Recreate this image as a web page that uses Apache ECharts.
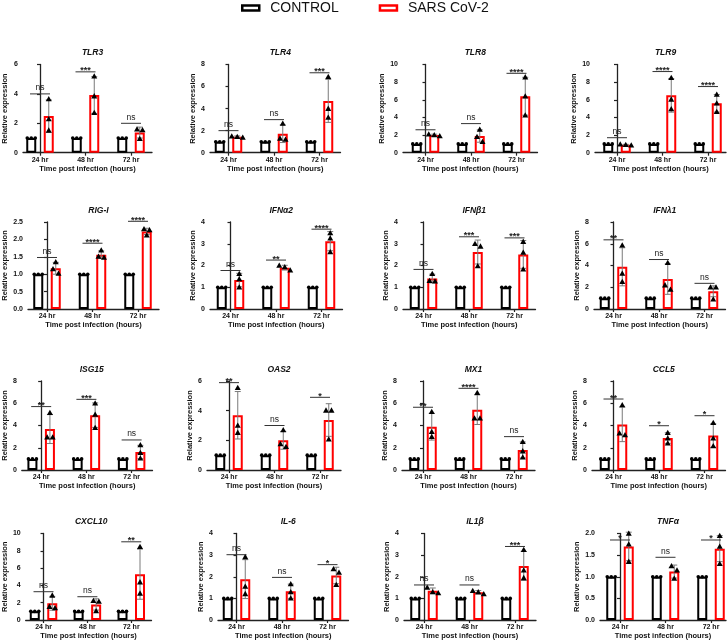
<!DOCTYPE html>
<html><head><meta charset="utf-8">
<script src="https://cdn.jsdelivr.net/npm/echarts@6/dist/echarts.min.js"></script>
<style>html,body{margin:0;padding:0;background:#fff}#c{width:728px;height:644px}</style>
</head><body><div id="c"></div>
<script>
// ---------------- DATA ----------------
const categories = ['24 hr', '48 hr', '72 hr'];
const genes = ['TLR3','TLR4','TLR8','TLR9','RIG-I','IFNα2','IFNβ1','IFNλ1','ISG15','OAS2','MX1','CCL5','CXCL10','IL-6','IL1β','TNFα'];
const yMax  = [6, 8, 10, 10, 2.5, 4, 4, 8, 8, 6, 8, 8, 10, 4, 4, 2];
const yStep = [2, 2, 2, 2, 0.5, 1, 1, 2, 2, 2, 2, 2, 2, 1, 1, 0.5];
const controlMean = [1, 1, 1];
const controlPoints = [1, 1, 1];
const sarsMean = [
  [2.49, 3.92, 1.37], [1.44, 1.72, 4.70], [2.00, 1.89, 6.40], [0.90, 6.50, 5.60],
  [1.17, 1.56, 2.23], [1.33, 1.90, 3.12], [1.40, 2.62, 2.51], [3.88, 2.75, 1.63],
  [3.68, 4.93, 1.62], [3.69, 2.00, 3.37], [3.89, 5.42, 1.80], [4.10, 2.87, 3.09],
  [1.93, 1.80, 5.30], [1.89, 1.33, 2.06], [1.35, 1.28, 2.50], [1.70, 1.12, 1.65]
];
const sarsSD = [
  [1.10, 1.25, 0.37], [0.08, 0.80, 1.95], [0.10, 0.70, 2.15], [0.05, 1.90, 1.00],
  [0.17, 0.11, 0.09], [0.31, 0.11, 0.44], [0.20, 0.55, 0.64], [1.75, 1.40, 0.50],
  [1.30, 1.10, 0.60], [1.60, 0.60, 1.10], [1.20, 1.33, 0.72], [1.55, 0.48, 1.06],
  [0.80, 0.65, 2.90], [0.90, 0.33, 0.38], [0.13, 0.08, 0.67], [0.33, 0.15, 0.30]
];
const sarsPoints = [
  [[3.65, 2.30, 1.52], [5.20, 3.85, 2.72], [1.60, 1.55, 0.95]],
  [[1.50, 1.45, 1.38], [2.65, 1.30, 1.20], [6.90, 4.00, 3.20]],
  [[2.10, 2.00, 1.90], [2.63, 1.80, 1.24], [8.57, 6.40, 4.25]],
  [[0.95, 0.90, 0.85], [8.50, 6.05, 4.95], [6.60, 5.60, 4.65]],
  [[1.35, 1.15, 1.02], [1.69, 1.51, 1.48], [2.30, 2.27, 2.12]],
  [[1.62, 1.38, 1.00], [2.00, 1.93, 1.78], [3.50, 3.25, 2.62]],
  [[1.62, 1.30, 1.28], [3.00, 2.88, 1.98], [3.10, 2.60, 1.83]],
  [[5.87, 3.27, 2.50], [4.25, 2.20, 1.80], [2.00, 2.00, 0.90]],
  [[5.15, 2.95, 2.95], [6.00, 5.00, 3.80], [2.25, 1.55, 1.05]],
  [[5.55, 3.00, 2.52], [2.70, 1.75, 1.57], [4.02, 4.02, 2.07]],
  [[5.24, 3.44, 2.99], [6.95, 4.65, 4.65], [2.55, 1.70, 1.15]],
  [[5.84, 3.30, 3.15], [3.35, 2.85, 2.40], [4.25, 2.85, 2.16]],
  [[2.85, 1.55, 1.40], [2.23, 2.15, 1.04], [8.46, 4.38, 3.08]],
  [[2.92, 1.55, 1.21], [1.67, 1.30, 1.01], [2.36, 2.20, 1.63]],
  [[1.50, 1.30, 1.25], [1.35, 1.30, 1.20], [3.25, 2.30, 1.95]],
  [[2.00, 1.75, 1.35], [1.25, 1.15, 0.96], [1.95, 1.70, 1.30]]
];
const sigLabel = [
  ['ns','***','ns'], ['ns','ns','***'], ['ns','ns','****'], ['ns','****','****'],
  ['ns','****','****'], ['ns','**','****'], ['ns','***','***'], ['**','ns','ns'],
  ['**','***','ns'], ['**','ns','*'], ['**','****','ns'], ['**','*','*'],
  ['ns','ns','**'], ['ns','ns','*'], ['ns','ns','***'], ['*','ns','*']
];
const sigHeight = [
  [4.0, 5.5, 2.0], [2.0, 3.0, 7.25], [2.6, 3.3, 9.0], [1.7, 9.2, 7.5],
  [1.48, 1.89, 2.52], [1.77, 2.25, 3.67], [1.82, 3.32, 3.27], [6.36, 4.55, 2.36],
  [5.7, 6.35, 2.7], [5.89, 3.0, 4.9], [5.64, 7.34, 3.0], [6.38, 3.98, 4.88],
  [3.27, 2.69, 9.04], [3.02, 1.97, 2.56], [1.62, 1.62, 3.4], [1.85, 1.45, 1.85]
];

// ---------------- LAYOUT ----------------
const FONT = '"Liberation Sans", Arial, sans-serif';
const RED = '#ff0000';
const rowTop = [64.5, 222, 381, 533.5];
const rowBottom = [152.7, 309, 470, 620];
// [axis x, first group centre x, y-title centre x]
const panelPos = [
  [23, 40, 5], [210, 228.5, 195], [403, 425.5, 387], [595, 617, 579],
  [28, 47, 5], [210, 230.5, 197], [403, 423.5, 388], [594, 613.5, 579],
  [21, 40.5, 5], [207, 229, 197], [402, 423, 385], [592, 613.5, 579],
  [21, 39.5, 5], [218, 236.5, 203], [404, 424, 388], [600, 620, 582]
];
const SPACING = 45.5;
const BAR_W = 10, BAR_GAP = 7.5;
const BAR_OFF = (BAR_W + BAR_GAP) / 2;

function clusterOffsets(ys, step) {
  const idx = ys.map((_, i) => i).sort((a, b) => ys[a] - ys[b]);
  const offs = ys.map(() => 0);
  let i = 0;
  while (i < idx.length) {
    let j = i;
    while (j + 1 < idx.length && ys[idx[j + 1]] - ys[idx[j]] < 5) j++;
    const n = j - i + 1;
    for (let k = 0; k < n; k++) offs[idx[i + k]] = (k - (n - 1) / 2) * step;
    i = j + 1;
  }
  return offs;
}

function pointsRender(kind) {
  return function (params, api) {
    const x = api.value(0);
    const vals = [api.value(1), api.value(2), api.value(3)];
    const base = api.coord([x, 0]);
    const cx = base[0] + (kind === 'ctrl' ? -BAR_OFF : BAR_OFF);
    const ys = vals.map(v => api.coord([x, v])[1]);
    const offs = clusterOffsets(ys, kind === 'ctrl' ? 4 : 5.5);
    const children = ys.map((y, i) => {
      const px = cx + offs[i];
      if (kind === 'ctrl') {
        return { type: 'circle', shape: { cx: px, cy: y, r: 1.8 }, style: { fill: '#000' } };
      }
      return { type: 'polygon', shape: { points: [[px, y - 3], [px - 3, y + 2.3], [px + 3, y + 2.3]] }, style: { fill: '#000' } };
    });
    return { type: 'group', children };
  };
}

function errRender(params, api) {
  const x = api.value(0), m = api.value(1), sd = api.value(2);
  const hi = api.coord([x, m + sd]), lo = api.coord([x, Math.max(0, m - sd)]);
  const cx = hi[0] + BAR_OFF;
  const st = { stroke: '#7a7a7a', lineWidth: 1 };
  return { type: 'group', children: [
    { type: 'line', shape: { x1: cx, y1: hi[1], x2: cx, y2: lo[1] }, style: st },
    { type: 'line', shape: { x1: cx - 3, y1: hi[1], x2: cx + 3, y2: hi[1] }, style: st },
    { type: 'line', shape: { x1: cx - 3, y1: lo[1], x2: cx + 3, y2: lo[1] }, style: st }
  ]};
}

function sigRender(p) {
  return function (params, api) {
    const x = api.value(0), h = api.value(1);
    const c = api.coord([x, h]);
    const lab = sigLabel[p][params.dataIndex];
    const isStar = lab.indexOf('*') >= 0;
    return { type: 'group', children: [
      { type: 'line', shape: { x1: c[0] - 10, y1: c[1], x2: c[0] + 10, y2: c[1] }, style: { stroke: '#333', lineWidth: 1 } },
      { type: 'text', style: { text: lab, x: c[0], y: isStar ? c[1] + 3.5 : c[1] - 1.5, align: 'center', verticalAlign: 'bottom',
        font: (isStar ? 'bold 9px ' : '8.5px ') + FONT, fill: '#222' } }
    ]};
  };
}

const grids = [], xAxes = [], yAxes = [], titles = [], series = [];
genes.forEach((g, p) => {
  const row = Math.floor(p / 4);
  const [L, c0, tx] = panelPos[p];
  const R = Math.min(c0 + 2 * SPACING + 21, 726);
  const top = rowTop[row], bottom = rowBottom[row];
  grids.push({ left: L, top: top, width: R - L, height: bottom - top, containLabel: false });
  const xmin = -(c0 - L) / SPACING;
  const xmax = 2 + (R - c0 - 2 * SPACING) / SPACING;
  const dec = yStep[p] < 1 ? 1 : 0;
  xAxes.push({
    type: 'value', gridIndex: p, min: xmin, max: xmax,
    name: 'Time post infection (hours)', nameLocation: 'middle', nameGap: 12,
    nameTextStyle: { fontSize: 7.5, fontWeight: 'bold', fontFamily: FONT, color: '#111' },
    axisLine: { show: true, lineStyle: { color: '#222', width: 1.3 } },
    axisTick: { show: true, customValues: [0, 1, 2], length: 3, lineStyle: { color: '#222', width: 1.2 } },
    axisLabel: { customValues: [0, 1, 2], formatter: v => categories[Math.round(v)], margin: 4,
      fontSize: 7, fontWeight: 'bold', fontFamily: FONT, color: '#111' },
    splitLine: { show: false }
  });
  yAxes.push({
    type: 'value', gridIndex: p, min: 0, max: yMax[p], interval: yStep[p],
    name: 'Relative expression', nameLocation: 'middle', nameGap: L - tx - 4,
    nameTextStyle: { fontSize: 7.5, fontWeight: 'bold', fontFamily: FONT, color: '#111' },
    axisLine: { show: true, lineStyle: { color: '#222', width: 1.3 } },
    axisTick: { show: true, length: 3, lineStyle: { color: '#222', width: 1.2 } },
    axisLabel: { formatter: v => v.toFixed(dec), margin: 5, fontSize: 7, fontWeight: 'bold', fontFamily: FONT, color: '#111' },
    splitLine: { show: false }
  });
  titles.push({ text: g, left: (L + R) / 2, top: top - 21, textAlign: 'center',
    textStyle: { fontSize: 8.5, fontWeight: 'bold', fontStyle: 'italic', fontFamily: FONT, color: '#111' } });

  series.push({
    type: 'bar', name: 'CONTROL', xAxisIndex: p, yAxisIndex: p, barWidth: BAR_W, barGap: (BAR_GAP / BAR_W * 100) + '%',
    data: controlMean.map((v, i) => [i, v]), itemStyle: { color: '#fff', borderColor: '#000', borderWidth: 2 }, z: 2
  });
  series.push({
    type: 'bar', name: 'SARS CoV-2', xAxisIndex: p, yAxisIndex: p, barWidth: BAR_W, barGap: (BAR_GAP / BAR_W * 100) + '%',
    data: sarsMean[p].map((v, i) => [i, v]), itemStyle: { color: '#fff', borderColor: RED, borderWidth: 2 }, z: 2
  });
  series.push({
    type: 'custom', xAxisIndex: p, yAxisIndex: p, renderItem: errRender, clip: false, z: 3,
    data: sarsMean[p].map((v, i) => [i, v, sarsSD[p][i]])
  });
  series.push({
    type: 'custom', xAxisIndex: p, yAxisIndex: p, renderItem: pointsRender('ctrl'), clip: false, z: 4,
    data: categories.map((c, i) => [i].concat(controlPoints))
  });
  series.push({
    type: 'custom', xAxisIndex: p, yAxisIndex: p, renderItem: pointsRender('sars'), clip: false, z: 4,
    data: sarsPoints[p].map((pts, i) => [i].concat(pts))
  });
  series.push({
    type: 'custom', xAxisIndex: p, yAxisIndex: p, renderItem: sigRender(p), clip: false, z: 4,
    data: sigHeight[p].map((h, i) => [i, h])
  });
});

const chart = echarts.init(document.getElementById('c'), null, { renderer: 'canvas' });
chart.setOption({
  animation: false,
  backgroundColor: '#fff',
  title: titles,
  legend: {
    left: 241, top: 1, padding: 0, itemWidth: 17, itemHeight: 5, itemGap: 40, icon: 'rect',
    data: [
      { name: 'CONTROL', itemStyle: { color: '#fff', borderColor: '#000', borderWidth: 2.5 } },
      { name: 'SARS CoV-2', itemStyle: { color: '#fff', borderColor: RED, borderWidth: 2.5 } }
    ],
    textStyle: { fontSize: 14, fontFamily: FONT, color: '#111', padding: [0, 0, 0, 6] }
  },
  grid: grids,
  xAxis: xAxes,
  yAxis: yAxes,
  series: series
});
</script>
</body></html>
